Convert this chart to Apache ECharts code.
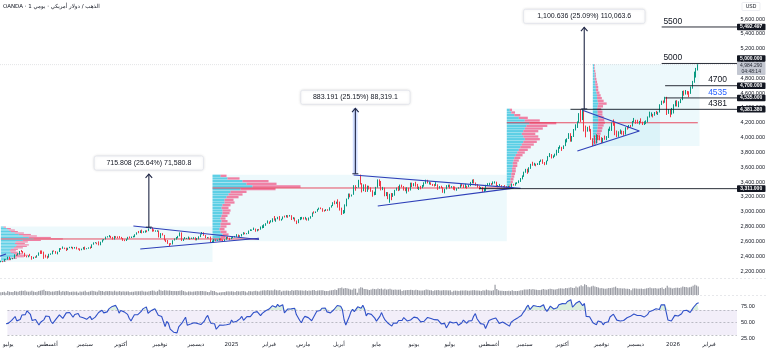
<!DOCTYPE html>
<html><head><meta charset="utf-8">
<script src="https://cdn.jsdelivr.net/npm/echarts@6/dist/echarts.min.js"></script>
<style>html,body{margin:0;padding:0;background:#fff}#c{width:768px;height:351px}</style>
</head><body><div id="c"></div>
<script>
// ---- daily bars: [day, open, high, low, close, volume] ----
const jun24=[[3,2327,2354,2314,2350,30],[4,2350,2353,2316,2327,32],[5,2327,2359,2323,2355,30],[6,2355,2388,2350,2375,33],[7,2375,2387,2286,2294,45],[10,2294,2314,2287,2311,30],[11,2311,2318,2297,2316,28],[12,2316,2342,2308,2324,34],[13,2324,2330,2296,2303,30],[14,2303,2336,2300,2333,33],[17,2333,2335,2311,2319,26],[18,2319,2332,2315,2329,27],[19,2329,2334,2321,2328,20],[20,2328,2365,2326,2360,32],[21,2360,2368,2316,2322,36],[24,2322,2337,2318,2334,26],[25,2334,2335,2310,2319,27],[26,2319,2321,2293,2298,29],[27,2298,2329,2294,2327,28],[28,2327,2339,2319,2326,30]];
const jul24=[[1,2326,2339,2318,2332,26],[2,2332,2335,2319,2330,27],[3,2330,2364,2327,2356,30],[4,2356,2363,2352,2356,20],[5,2356,2393,2353,2392,36],[8,2392,2393,2353,2359,30],[9,2359,2370,2351,2364,28],[10,2364,2375,2358,2371,27],[11,2371,2425,2367,2415,38],[12,2415,2424,2403,2411,33],[15,2411,2440,2409,2422,31],[16,2422,2470,2421,2469,38],[17,2469,2484,2453,2459,40],[18,2459,2470,2437,2445,37],[19,2445,2446,2392,2400,42],[22,2400,2405,2384,2396,33],[23,2396,2412,2385,2409,31],[24,2409,2431,2397,2398,33],[25,2398,2402,2353,2364,40],[26,2364,2391,2364,2387,33],[29,2387,2397,2376,2384,28],[30,2384,2413,2380,2410,31],[31,2410,2451,2406,2447,38]];
const aug24=[[1,2447,2477,2430,2446,40],[2,2446,2477,2431,2443,45],[5,2443,2461,2364,2409,48],[6,2409,2421,2380,2390,38],[7,2390,2405,2367,2383,34],[8,2383,2432,2380,2427,36],[9,2427,2438,2418,2431,30],[12,2431,2474,2425,2472,33],[13,2472,2478,2461,2465,32],[14,2465,2470,2432,2447,36],[15,2447,2461,2424,2456,38],[16,2456,2509,2456,2507,42],[19,2507,2509,2486,2504,30],[20,2504,2531,2499,2514,36],[21,2514,2516,2495,2512,32],[22,2512,2514,2470,2484,37],[23,2484,2514,2482,2512,35],[26,2512,2526,2508,2518,28],[27,2518,2528,2507,2524,30],[28,2524,2525,2494,2504,33],[29,2504,2524,2502,2521,30],[30,2521,2526,2492,2503,32]];
const sep24=[[2,2503,2506,2488,2500,22],[3,2500,2504,2472,2493,33],[4,2493,2502,2480,2495,31],[5,2495,2523,2490,2516,33],[6,2516,2529,2485,2497,40],[9,2497,2508,2493,2506,29],[10,2506,2519,2500,2516,30],[11,2516,2529,2500,2512,35],[12,2512,2560,2510,2558,40],[13,2558,2586,2555,2578,38],[16,2578,2589,2574,2582,32],[17,2582,2584,2560,2569,31],[18,2569,2600,2546,2559,42],[19,2559,2595,2547,2587,38],[20,2587,2625,2585,2622,37],[23,2622,2631,2613,2628,30],[24,2628,2664,2626,2657,37],[25,2657,2670,2652,2657,34],[26,2657,2685,2655,2672,36],[27,2672,2674,2643,2658,35],[30,2658,2660,2624,2634,33]];
const oct24=[[1,2634,2673,2624,2663,40],[2,2663,2670,2647,2659,33],[3,2659,2667,2642,2656,33],[4,2656,2671,2640,2653,37],[7,2653,2660,2635,2644,31],[8,2644,2645,2606,2622,35],[9,2622,2625,2603,2608,32],[10,2608,2633,2605,2631,33],[11,2631,2661,2626,2657,34],[14,2657,2666,2641,2649,29],[15,2649,2665,2645,2662,31],[16,2662,2675,2653,2674,30],[17,2674,2696,2656,2692,34],[18,2692,2722,2690,2721,35],[21,2721,2740,2710,2720,34],[22,2720,2749,2712,2748,35],[23,2748,2758,2708,2715,40],[24,2715,2737,2715,2736,33],[25,2736,2748,2717,2747,32],[28,2747,2749,2723,2743,31],[29,2743,2775,2737,2774,34],[30,2774,2790,2768,2788,37],[31,2788,2790,2730,2744,42]];
const nov24=[[1,2744,2762,2733,2736,39],[4,2736,2749,2730,2736,31],[5,2736,2750,2729,2743,36],[6,2743,2746,2652,2659,48],[7,2659,2711,2645,2706,42],[8,2706,2710,2679,2685,37],[11,2685,2687,2611,2619,44],[12,2619,2628,2590,2598,41],[13,2598,2618,2566,2572,40],[14,2572,2575,2536,2565,42],[15,2565,2576,2555,2562,36],[18,2562,2615,2558,2612,37],[19,2612,2639,2611,2631,36],[20,2631,2659,2623,2651,36],[21,2651,2674,2641,2670,37],[22,2670,2721,2667,2715,40],[25,2715,2721,2605,2624,45],[26,2624,2635,2605,2633,38],[27,2633,2658,2630,2637,33],[28,2637,2647,2631,2639,25],[29,2639,2665,2629,2650,34]];
const dec24=[[2,2650,2651,2622,2640,33],[3,2640,2651,2632,2643,31],[4,2643,2657,2632,2650,32],[5,2650,2655,2614,2632,34],[6,2632,2645,2614,2633,36],[9,2633,2668,2627,2660,35],[10,2660,2697,2657,2694,36],[11,2694,2726,2692,2718,37],[12,2718,2722,2675,2680,35],[13,2680,2686,2643,2648,35],[16,2648,2658,2640,2652,28],[17,2652,2654,2639,2646,29],[18,2646,2664,2582,2587,42],[19,2587,2611,2583,2594,37],[20,2594,2633,2581,2622,38],[23,2622,2627,2603,2613,27],[24,2613,2622,2608,2618,20],[26,2618,2639,2613,2633,24],[27,2633,2641,2613,2621,26],[30,2621,2623,2596,2606,28],[31,2606,2629,2604,2624,27]];
const jan25=[[2,2624,2662,2622,2658,34],[3,2658,2665,2635,2640,35],[6,2640,2649,2615,2636,33],[7,2636,2655,2629,2648,34],[8,2648,2670,2642,2662,33],[9,2662,2673,2654,2670,28],[10,2670,2697,2660,2690,38],[13,2690,2692,2656,2663,34],[14,2663,2682,2660,2677,32],[15,2677,2700,2666,2697,36],[16,2697,2724,2690,2715,36],[17,2715,2718,2696,2703,33],[20,2703,2711,2695,2708,24],[21,2708,2746,2700,2745,36],[22,2745,2763,2740,2755,35],[23,2755,2759,2742,2755,33],[24,2755,2786,2753,2770,37],[27,2770,2772,2730,2740,40],[28,2740,2765,2735,2763,35],[29,2763,2767,2745,2760,33],[30,2760,2800,2757,2795,39],[31,2795,2817,2775,2798,42]];
const feb25=[[3,2798,2830,2780,2815,45],[4,2815,2845,2810,2842,42],[5,2842,2882,2840,2866,46],[6,2866,2869,2834,2856,42],[7,2856,2886,2853,2861,44],[10,2861,2911,2858,2908,42],[11,2908,2942,2880,2897,50],[12,2897,2910,2864,2904,45],[13,2904,2931,2898,2928,42],[14,2928,2942,2880,2882,47],[17,2882,2904,2879,2898,32],[18,2898,2936,2896,2935,40],[19,2935,2947,2922,2933,40],[20,2933,2955,2923,2939,41],[21,2939,2953,2918,2936,40],[24,2936,2956,2934,2951,38],[25,2951,2953,2888,2915,46],[26,2915,2927,2897,2916,40],[27,2916,2921,2869,2875,45],[28,2875,2881,2833,2857,47]];
const mar25=[[3,2857,2899,2845,2893,42],[4,2893,2928,2886,2918,43],[5,2918,2930,2896,2920,41],[6,2920,2926,2895,2910,40],[7,2910,2930,2894,2910,43],[10,2910,2912,2880,2889,38],[11,2889,2922,2880,2916,41],[12,2916,2940,2906,2934,40],[13,2934,2990,2931,2988,45],[14,2988,3005,2975,2984,46],[17,2984,3004,2982,3001,38],[18,3001,3038,3000,3034,42],[19,3034,3055,3027,3048,43],[20,3048,3057,3034,3044,44],[21,3044,3047,2999,3022,45],[24,3022,3025,3001,3011,38],[25,3011,3035,3009,3020,37],[26,3020,3033,3012,3019,36],[27,3019,3060,3014,3057,42],[28,3057,3087,3055,3085,44],[31,3085,3128,3076,3124,46]];
const apr25=[[1,3124,3149,3100,3113,50],[2,3113,3135,3106,3133,47],[3,3133,3167,3055,3114,62],[4,3114,3136,3015,3038,66],[7,3038,3055,2957,2982,70],[8,2982,3022,2970,2983,60],[9,2983,3099,2979,3082,66],[10,3082,3177,3072,3175,62],[11,3175,3245,3168,3237,58],[14,3237,3245,3194,3211,52],[15,3211,3232,3205,3230,48],[16,3230,3358,3228,3343,60],[17,3343,3357,3283,3327,58],[18,3327,3331,3321,3327,20],[21,3327,3430,3325,3424,60],[22,3424,3500,3367,3381,72],[23,3381,3386,3260,3288,68],[24,3288,3368,3277,3349,56],[25,3349,3371,3266,3319,55],[28,3319,3352,3268,3344,50],[29,3344,3350,3300,3317,46],[30,3317,3328,3268,3288,50]];
const may25=[[1,3288,3290,3202,3239,58],[2,3239,3270,3222,3241,55],[5,3241,3335,3226,3334,54],[6,3334,3436,3324,3431,60],[7,3431,3436,3344,3365,56],[8,3365,3415,3287,3305,60],[9,3305,3335,3291,3325,50],[12,3325,3326,3208,3235,58],[13,3235,3265,3210,3249,50],[14,3249,3265,3169,3178,54],[15,3178,3241,3121,3240,58],[16,3240,3252,3155,3203,52],[19,3203,3250,3200,3230,48],[20,3230,3295,3216,3290,50],[21,3290,3325,3284,3314,48],[22,3314,3345,3278,3294,49],[23,3294,3366,3287,3357,50],[26,3357,3365,3328,3342,38],[27,3342,3346,3285,3300,45],[28,3300,3325,3277,3288,44],[29,3288,3330,3246,3318,47],[30,3318,3324,3271,3289,46]];
const jun25=[[2,3289,3392,3286,3381,48],[3,3381,3392,3333,3353,46],[4,3353,3385,3343,3373,43],[5,3373,3404,3339,3352,48],[6,3352,3375,3306,3310,46],[9,3310,3338,3293,3326,41],[10,3326,3349,3302,3322,42],[11,3322,3360,3316,3354,42],[12,3354,3397,3338,3386,45],[13,3386,3432,3377,3423,52],[16,3423,3430,3382,3385,48],[17,3385,3404,3367,3388,44],[18,3388,3396,3362,3370,43],[19,3370,3375,3348,3369,38],[20,3369,3373,3340,3368,43],[23,3368,3398,3348,3368,44],[24,3368,3370,3295,3323,47],[25,3323,3345,3312,3332,41],[26,3332,3350,3317,3328,42],[27,3328,3330,3255,3273,45],[30,3273,3310,3248,3303,43]];
const jul25=[[1,3303,3358,3301,3338,44],[2,3338,3365,3330,3357,42],[3,3357,3366,3311,3326,44],[4,3326,3345,3323,3337,30],[7,3337,3344,3296,3336,40],[8,3336,3340,3287,3302,41],[9,3302,3318,3283,3313,40],[10,3313,3330,3310,3324,38],[11,3324,3369,3321,3355,42],[14,3355,3375,3341,3343,42],[15,3343,3366,3320,3324,41],[16,3324,3377,3319,3347,45],[17,3347,3350,3310,3339,40],[18,3339,3361,3332,3350,39],[21,3350,3402,3344,3397,42],[22,3397,3434,3383,3432,44],[23,3432,3439,3381,3387,45],[24,3387,3394,3351,3368,42],[25,3368,3373,3325,3337,42],[28,3337,3345,3301,3314,40],[29,3314,3334,3308,3327,38],[30,3327,3334,3268,3275,45],[31,3275,3315,3268,3290,42]];
const aug25=[[1,3290,3363,3280,3363,50],[4,3363,3385,3346,3373,43],[5,3373,3390,3355,3381,42],[6,3381,3386,3358,3369,40],[7,3369,3409,3367,3396,45],[8,3396,3410,3380,3398,95],[11,3398,3405,3341,3342,55],[12,3342,3359,3331,3348,44],[13,3348,3375,3347,3356,40],[14,3356,3358,3330,3336,40],[15,3336,3345,3330,3336,36],[18,3336,3358,3324,3332,36],[19,3332,3345,3310,3316,38],[20,3316,3350,3312,3348,40],[21,3348,3350,3325,3338,36],[22,3338,3379,3322,3372,44],[25,3372,3376,3352,3366,36],[26,3366,3393,3351,3393,38],[27,3393,3398,3372,3397,37],[28,3397,3423,3385,3416,40],[29,3416,3454,3402,3448,44]];
const sep25=[[1,3448,3490,3436,3476,44],[2,3476,3540,3470,3533,50],[3,3533,3578,3526,3578,52],[4,3578,3580,3511,3545,52],[5,3545,3600,3530,3587,55],[8,3587,3646,3578,3636,50],[9,3636,3674,3620,3625,56],[10,3625,3660,3622,3641,50],[11,3641,3648,3613,3634,48],[12,3634,3655,3630,3643,46],[15,3643,3685,3630,3679,46],[16,3679,3703,3673,3690,50],[17,3690,3707,3646,3659,56],[18,3659,3670,3628,3643,52],[19,3643,3690,3634,3685,48],[22,3685,3750,3682,3746,54],[23,3746,3791,3737,3764,58],[24,3764,3777,3718,3736,55],[25,3736,3760,3722,3749,50],[26,3749,3783,3741,3760,50],[29,3760,3836,3758,3833,55],[30,3833,3872,3792,3858,60]];
const oct25=[[1,3858,3895,3850,3866,62],[2,3866,3875,3820,3857,60],[3,3857,3895,3845,3887,58],[6,3887,3977,3885,3960,64],[7,3960,3990,3935,3985,62],[8,3985,4060,3982,4040,68],[9,4040,4059,3945,3975,72],[10,3975,4022,3945,4018,66],[13,4018,4116,4008,4110,66],[14,4110,4179,4096,4142,78],[15,4142,4218,4130,4208,70],[16,4208,4330,4200,4326,80],[17,4326,4380,4212,4250,90],[20,4250,4381,4236,4356,82],[21,4356,4360,4082,4125,100],[22,4125,4162,4004,4095,92],[23,4095,4145,4080,4126,76],[24,4126,4160,4082,4112,72],[27,4112,4117,3970,3982,80],[28,3982,3992,3886,3953,85],[29,3953,4030,3917,3930,78],[30,3930,4045,3920,4025,74],[31,4025,4035,3965,4002,70]];
const nov25=[[3,4002,4030,3963,4001,62],[4,4001,4005,3928,3932,66],[5,3932,3996,3930,3980,60],[6,3980,4027,3970,3977,58],[7,3977,4020,3965,4000,60],[10,4000,4120,3995,4115,66],[11,4115,4148,4090,4128,64],[12,4128,4205,4090,4195,68],[13,4195,4245,4160,4173,72],[14,4173,4210,4032,4084,78],[17,4084,4095,4005,4045,66],[18,4045,4085,4010,4067,62],[19,4067,4110,4050,4078,62],[20,4078,4095,4040,4077,60],[21,4077,4090,4025,4065,62],[24,4065,4140,4040,4135,58],[25,4135,4155,4108,4131,58],[26,4131,4170,4125,4165,55],[27,4165,4170,4140,4157,45],[28,4157,4225,4150,4218,60]];
const dec25=[[1,4218,4265,4205,4231,62],[2,4231,4240,4186,4205,60],[3,4205,4240,4188,4200,58],[4,4200,4225,4176,4208,58],[5,4208,4260,4195,4198,60],[8,4198,4215,4170,4190,56],[9,4190,4220,4170,4208,58],[10,4208,4232,4182,4228,62],[11,4228,4285,4205,4280,64],[12,4280,4350,4270,4300,70],[15,4300,4340,4285,4305,62],[16,4305,4320,4272,4302,62],[17,4302,4345,4295,4340,64],[18,4340,4360,4315,4330,60],[19,4330,4348,4305,4340,60],[22,4340,4450,4338,4445,66],[23,4445,4498,4440,4490,70],[24,4490,4500,4460,4480,55],[26,4480,4550,4470,4533,66],[29,4533,4550,4305,4330,85],[30,4330,4385,4320,4370,70],[31,4370,4380,4275,4320,68]];
const jan26=[[2,4320,4400,4310,4330,60],[5,4330,4450,4325,4445,66],[6,4445,4500,4420,4495,68],[7,4495,4505,4420,4455,68],[8,4455,4490,4410,4478,66],[9,4478,4520,4465,4510,70],[12,4510,4630,4505,4600,80],[13,4600,4635,4565,4590,75],[14,4590,4642,4580,4625,74],[15,4625,4630,4580,4615,70],[16,4615,4625,4545,4595,72],[19,4595,4690,4590,4670,76],[20,4670,4765,4660,4760,85],[21,4760,4890,4740,4830,95],[22,4830,4940,4810,4935,88],[23,4935,4990,4905,4984,80]];
const futureDates=['2026-01-26','2026-01-27','2026-01-28','2026-01-29','2026-01-30','2026-02-02','2026-02-03','2026-02-04','2026-02-05','2026-02-06','2026-02-09','2026-02-10','2026-02-11','2026-02-12','2026-02-13','2026-02-16','2026-02-17','2026-02-18','2026-02-19','2026-02-20','2026-02-23','2026-02-24'];
const monthNames=['يناير','فبراير','مارس','أبريل','مايو','يونيو','يوليو','أغسطس','سبتمبر','أكتوبر','نوفمبر','ديسمبر'];
const priceTicks=[2200,2400,2600,2800,3000,3200,3400,3600,3800,4000,4200,4400,4600,4800,5000,5200,5400,5600];
const rsiTicks=[25,50,75];
// volume profile rows [upVol, downVol], bottom to top
const vp1Rows=[[3,2],[6,4],[10,6],[14,9],[16,11],[13,9],[10,7],[9,6],[10,7],[13,9],[15,11],[16,12],[14,10],[15,12],[22,18],[33,29],[28,22],[22,14],[18,12],[14,9],[10,7],[8,6],[6,4],[3,2]];
const vp2Rows=[[6,4],[8,5],[10,6],[8,6],[7,5],[8,6],[8,10],[9,6],[8,5],[9,6],[10,7],[10,8],[9,7],[10,8],[12,10],[12,9],[14,12],[16,14],[18,16],[28,35],[40,48],[34,30],[30,26],[15,12],[8,6]];
const vp3Rows=[[3,2],[4,3],[5,3],[5,4],[6,4],[6,5],[7,5],[7,5],[8,6],[8,6],[9,7],[10,8],[12,9],[14,10],[16,12],[18,14],[20,16],[22,18],[24,20],[22,20],[20,18],[22,20],[24,24],[26,28],[30,36],[24,20],[16,12],[10,8],[6,5],[4,3]];
const vp4Rows=[[3,2],[4,4],[5,5],[6,6],[6,7],[7,8],[8,8],[8,10],[9,11],[9,10],[9,9],[8,8],[8,8],[7,7],[8,9],[9,14],[8,10],[7,8],[7,6],[6,5],[5,4],[5,4],[4,4],[4,3],[3,3],[3,2],[3,2],[2,2],[2,1],[2,1]];

const monthData=[['2024-06',jun24],['2024-07',jul24],['2024-08',aug24],['2024-09',sep24],['2024-10',oct24],['2024-11',nov24],['2024-12',dec24],['2025-01',jan25],['2025-02',feb25],['2025-03',mar25],['2025-04',apr25],['2025-05',may25],['2025-06',jun25],['2025-07',jul25],['2025-08',aug25],['2025-09',sep25],['2025-10',oct25],['2025-11',nov25],['2025-12',dec25],['2026-01',jan26]];

const cats=[],ohlc=[],vols=[],closes=[];
monthData.forEach(([ym,rows])=>rows.forEach(r=>{
  cats.push(ym+'-'+String(r[0]).padStart(2,'0'));
  ohlc.push([r[1],r[4],r[3],r[2]]);
  vols.push(r[5]); closes.push(r[4]);
}));
futureDates.forEach(d=>cats.push(d));
const X0=cats.indexOf('2024-07-01'), X1=cats.length-1;

function calcRSI(c,p){const out=c.map(()=>null);let g=0,l=0;
  for(let i=1;i<=p;i++){const d=c[i]-c[i-1];if(d>0)g+=d;else l-=d;}
  g/=p;l/=p;out[p]=100-100/(1+g/l);
  for(let i=p+1;i<c.length;i++){const d=c[i]-c[i-1];g=(g*(p-1)+Math.max(d,0))/p;l=(l*(p-1)+Math.max(-d,0))/p;out[i]=l===0?100:100-100/(1+g/l);}
  return out;}
const rsi=calcRSI(closes,14);
const obBase=rsi.map(v=>v==null?null:70);
const obExt=rsi.map(v=>v==null?null:Math.max(v-70,0));

const NUM='Liberation Sans, Arial, sans-serif';
const AR='DejaVu Sans, sans-serif';
const fmtP=v=>v.toLocaleString('en-US',{minimumFractionDigits:3,maximumFractionDigits:3});
const UP='#089981',DN='#f23645';

function xAxisFor(g,show){return {type:'category',gridIndex:g,data:cats,min:X0,max:X1,boundaryGap:true,
  axisLine:{show:false},axisTick:{show:false},splitLine:{show:false},
  axisLabel:{show:show,interval:(i)=>i>0&&cats[i].slice(0,7)!==cats[i-1].slice(0,7),
   formatter:(v)=>{const m=+v.slice(5,7);return m===1?v.slice(0,4):monthNames[m-1];},
   fontSize:5.5,color:'#131722',fontFamily:AR,margin:3.5}};}

const chart=echarts.init(document.getElementById('c'),null,{renderer:'canvas'});
chart.setOption({
  animation:false,backgroundColor:'#ffffff',
  grid:[{left:0,right:31,top:4.18,height:281.64},{left:0,right:31,top:281,height:14},{left:0,right:31,top:291.25,height:46.875}],
  xAxis:[xAxisFor(0,false),xAxisFor(1,false),xAxisFor(2,true)],
  yAxis:[
    {type:'value',gridIndex:0,position:'right',min:2000,max:5800,interval:200,splitLine:{show:false},axisLine:{show:false},axisTick:{show:false},
     axisLabel:{formatter:v=>priceTicks.includes(v)?fmtP(v):'',fontSize:5.5,color:'#131722',fontFamily:NUM,margin:4}},
    {type:'value',gridIndex:1,min:0,max:130,show:false},
    {type:'value',gridIndex:2,position:'right',min:25,max:100,interval:25,splitLine:{show:false},axisLine:{show:false},axisTick:{show:false},
     axisLabel:{formatter:v=>rsiTicks.includes(v)?v.toFixed(2):'',fontSize:5.5,color:'#131722',fontFamily:NUM,margin:4}}
  ],
  series:[
    {type:'candlestick',xAxisIndex:0,yAxisIndex:0,data:ohlc,barWidth:1.2,z:5,
     itemStyle:{color:UP,color0:DN,borderColor:UP,borderColor0:DN,borderWidth:1}},
    {type:'bar',xAxisIndex:1,yAxisIndex:1,data:vols,barWidth:'70%',itemStyle:{color:'rgba(120,123,134,0.75)'}},
    {type:'line',xAxisIndex:2,yAxisIndex:2,data:obBase,stack:'ob',symbol:'none',lineStyle:{width:0,opacity:0},silent:true},
    {type:'line',xAxisIndex:2,yAxisIndex:2,data:obExt,stack:'ob',symbol:'none',lineStyle:{width:0,opacity:0},silent:true,
     areaStyle:{color:'rgba(76,175,80,0.28)'}},
    {type:'line',xAxisIndex:2,yAxisIndex:2,data:rsi,symbol:'none',z:6,lineStyle:{width:1.1,color:'#2f50c8'},
     markArea:{silent:true,itemStyle:{color:'rgba(126,87,194,0.10)'},data:[[{yAxis:30},{yAxis:70}]]},
     markLine:{silent:true,symbol:'none',label:{show:false},lineStyle:{color:'#9598a1',type:[2,2],width:0.6},data:[{yAxis:70},{yAxis:50},{yAxis:30}]}}
  ]
});

// ---- annotations (drawn in data coordinates through the chart's scales) ----
const arrows=[
  {date:'2024-10-29',from:2791.7,to:3507.5,text:'715.808 (25.64%) 71,580.8',shade:false},
  {date:'2025-04-17',from:3511.7,to:4394.9,text:'883.191 (25.15%) 88,319.1',shade:true},
  {date:'2025-10-21',from:4386.7,to:5487.3,text:'1,100.636 (25.09%) 110,063.6',shade:false}
];
const triLines=[
  [['2024-06-26',2380],['2024-07-04',2430]],
  [['2024-10-16',2807],['2025-01-29',2625]],[['2024-10-22',2497],['2025-01-29',2641]],
  [['2025-04-16',3495],['2025-08-29',3315]],[['2025-05-06',3077],['2025-08-25',3318]],
  [['2025-10-20',4370],['2025-12-04',4089]],[['2025-10-15',3819],['2025-12-04',4089]]
];
const hLines=[
  {from:'2025-12-23',price:5492.497,label:'5500',lx:'2025-12-24',color:'#131722',box:'5,492.497'},
  {from:'2025-12-23',price:5000,label:'5000',lx:'2025-12-24',color:'#131722',box:'5,000.000',boxDy:-5},
  {from:'2025-12-26',price:4700,label:'4700',lx:'2026-02-02',color:'#131722',box:'4,700.000'},
  {from:'2025-12-26',price:4535,label:'4535',lx:'2026-02-02',color:'#2962ff',box:'4,535.000'},
  {from:'2025-10-09',price:4381.38,label:'4381',lx:'2026-02-02',color:'#131722',box:'4,381.380'},
  {from:'2025-07-28',price:3311,label:'',color:'#131722',box:'3,311.000'}
];
const profiles=[
  {start:'2024-07-01',end:'2024-12-19',lo:2320,hi:2800,rows:vp1Rows,scale:1.0,poc:2632,pocEnd:'2025-01-29'},
  {start:'2024-12-19',end:'2025-08-19',lo:2600,hi:3500,rows:vp2Rows,scale:1.0,poc:3320,pocEnd:'2025-08-21'},
  {start:'2025-08-19',end:'2025-12-22',lo:3310,hi:4390,rows:vp3Rows,scale:0.75,poc:4200,pocEnd:'2026-01-23'},
  {start:'2025-10-28',end:'2026-01-26',lo:3886,hi:4990,rows:vp4Rows,scale:0.6,poc:null}
];
const lastPrice=4984.29;

function P(d,p){return chart.convertToPixel({xAxisIndex:0,yAxisIndex:0},[cats.indexOf(d),p]);}
const RIGHT=737;
const els=[];
profiles.forEach(pf=>{
  const a=P(pf.start,pf.hi), b=P(pf.end,pf.lo);
  els.push({type:'rect',z:1,shape:{x:a[0],y:a[1],width:b[0]-a[0],height:b[1]-a[1]},style:{fill:'rgba(0,172,210,0.07)'}});
  const step=(pf.hi-pf.lo)/pf.rows.length;
  pf.rows.forEach((r,k)=>{
    const y0=P(pf.start,pf.lo+(k+1)*step)[1], y1=P(pf.start,pf.lo+k*step)[1];
    const h=Math.max(0.6,y1-y0-0.35);
    els.push({type:'rect',z:1,shape:{x:a[0],y:y0,width:r[0]*pf.scale,height:h},style:{fill:'rgba(38,190,220,0.72)'}});
    els.push({type:'rect',z:1,shape:{x:a[0]+r[0]*pf.scale,y:y0,width:r[1]*pf.scale,height:h},style:{fill:'rgba(240,80,130,0.72)'}});
  });
  if(pf.poc){const s=P(pf.start,pf.poc),e=P(pf.pocEnd,pf.poc);
    els.push({type:'line',z:3,shape:{x1:s[0],y1:s[1],x2:e[0],y2:e[1]},style:{stroke:'#e53950',lineWidth:0.9}});}
});
{const y=P(cats[X0],lastPrice)[1];els.push({type:'line',z:2,shape:{x1:0,y1:y,x2:RIGHT,y2:y},style:{stroke:'rgba(120,123,134,0.35)',lineWidth:0.6,lineDash:[1,1]}});}
triLines.forEach(([p1,p2])=>{const a=P(p1[0],p1[1]),b=P(p2[0],p2[1]);
  els.push({type:'line',z:8,shape:{x1:a[0],y1:a[1],x2:b[0],y2:b[1]},style:{stroke:'#2e3fb8',lineWidth:1.1}});});
hLines.forEach(h=>{const a=P(h.from,h.price);
  els.push({type:'line',z:8,shape:{x1:a[0],y1:a[1],x2:RIGHT,y2:a[1]},style:{stroke:'#131722',lineWidth:0.9}});
  if(h.label){const lp=P(h.lx,h.price);
    els.push({type:'text',z:20,x:lp[0],y:a[1]-1.2,style:{text:h.label,fill:h.color,font:'8.5px '+NUM,textAlign:'left',textVerticalAlign:'bottom'}});}
  const by=a[1]+(h.boxDy||0);
  els.push({type:'rect',z:30,shape:{x:RIGHT,y:by-3.3,width:28.5,height:6.6,r:0.8},style:{fill:'#131722'}});
  els.push({type:'text',z:31,x:RIGHT+14.2,y:by,style:{text:h.box,fill:'#fff',font:'bold 5px '+NUM,textAlign:'center',textVerticalAlign:'middle'}});
});
{const y=P(cats[X0],lastPrice)[1];
 els.push({type:'rect',z:30,shape:{x:RIGHT,y:y-2.6,width:28.5,height:13,r:0.8},style:{fill:'#c3c7d1'}});
 els.push({type:'text',z:31,x:RIGHT+14.2,y:y+1,style:{text:fmtP(lastPrice),fill:'#2a2e39',font:'5px '+NUM,textAlign:'center',textVerticalAlign:'middle'}});
 els.push({type:'text',z:31,x:RIGHT+14.2,y:y+7,style:{text:'04:48:14',fill:'#2a2e39',font:'5px '+NUM,textAlign:'center',textVerticalAlign:'middle'}});}
arrows.forEach(ar=>{const a=P(ar.date,ar.from),b=P(ar.date,ar.to);
  if(ar.shade) els.push({type:'rect',z:7,shape:{x:a[0]-2.6,y:b[1],width:4.8,height:a[1]-b[1]},style:{fill:'rgba(41,98,255,0.22)'}});
  els.push({type:'line',z:9,shape:{x1:a[0],y1:a[1],x2:b[0],y2:b[1]},style:{stroke:'#1f2645',lineWidth:1.1}});
  els.push({type:'polyline',z:9,shape:{points:[[b[0]-3.3,b[1]+3.8],[b[0],b[1]],[b[0]+3.3,b[1]+3.8]]},style:{stroke:'#1f2645',lineWidth:1.1,fill:null}});
  els.push({type:'line',z:9,shape:{x1:a[0]-3,y1:a[1],x2:a[0]+3,y2:a[1]},style:{stroke:'#1f2645',lineWidth:1}});
  const w=ar.text.length*4.05+8;
  els.push({type:'rect',z:20,shape:{x:b[0]-w/2,y:b[1]-18,width:w,height:14,r:2},style:{fill:'#fff',stroke:'#e0e3eb',lineWidth:0.7,shadowBlur:3,shadowColor:'rgba(0,0,0,0.12)'}});
  els.push({type:'text',z:21,x:b[0],y:b[1]-11,style:{text:ar.text,fill:'#131722',font:'7px '+NUM,textAlign:'center',textVerticalAlign:'middle'}});
});
[278.5,295.5].forEach(y=>els.push({type:'line',z:2,shape:{x1:0,y1:y,x2:768,y2:y},style:{stroke:'#d6d8de',lineWidth:0.6,lineDash:[2,2]}}));
els.push({type:'text',z:40,x:3,y:6.5,style:{text:'OANDA · الذهب / دولار أمريكي · يومي 1',fill:'#131722',font:'5.5px '+AR,textVerticalAlign:'middle'}});
els.push({type:'rect',z:40,shape:{x:742,y:2.5,width:18,height:8,r:1},style:{fill:'#fff',stroke:'#e0e3eb',lineWidth:0.6}});
els.push({type:'text',z:41,x:751,y:6.5,style:{text:'USD',fill:'#131722',font:'5px '+NUM,textAlign:'center',textVerticalAlign:'middle'}});
chart.setOption({graphic:{elements:els}});
</script></body></html>
